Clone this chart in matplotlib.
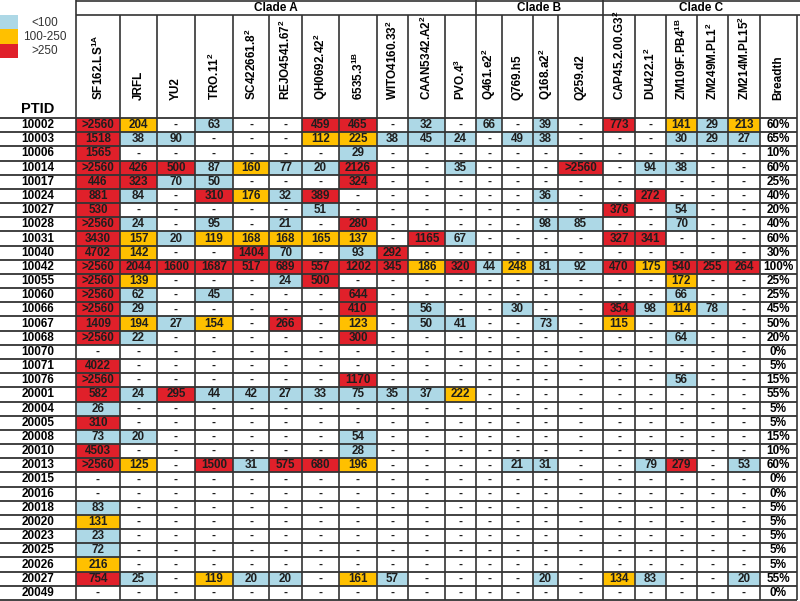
import numpy as np
import matplotlib
matplotlib.use("Agg")
import matplotlib.pyplot as plt
from matplotlib.colors import ListedColormap
from matplotlib.patches import Rectangle

plt.rcParams["font.family"] = ["Liberation Sans", "DejaVu Sans"]
plt.rcParams["mathtext.fontset"] = "custom"
plt.rcParams["mathtext.rm"] = "Liberation Sans"
plt.rcParams["mathtext.bf"] = "Liberation Sans:bold"

# --- data ---------------------------------------------------------------
viruses = [r"SF162.LS$^{\mathbf{1A}}$", "JRFL", "YU2", r"TRO.11$^{\mathbf{2}}$",
           r"SC422661.8$^{\mathbf{2}}$", r"REJO4541.67$^{\mathbf{2}}$",
           r"QH0692.42$^{\mathbf{2}}$", r"6535.3$^{\mathbf{1B}}$",
           r"WITO4160.33$^{\mathbf{2}}$", r"CAAN5342.A2$^{\mathbf{2}}$",
           r"PVO.4$^{\mathbf{3}}$", r"Q461.e2$^{\mathbf{2}}$", "Q769.h5",
           r"Q168.a2$^{\mathbf{2}}$", "Q259.d2", r"CAP45.2.00.G3$^{\mathbf{2}}$",
           r"DU422.1$^{\mathbf{2}}$", r"ZM109F.PB4$^{\mathbf{1B}}$",
           r"ZM249M.PL1$^{\mathbf{2}}$", r"ZM214M.PL15$^{\mathbf{2}}$"]
clades = ["Clade A", "Clade B", "Clade C"]
clade_sizes = [11, 4, 5]

ptids = ["10002", "10003", "10006", "10014", "10017", "10024", "10027", "10028",
         "10031", "10040", "10042", "10055", "10060", "10066", "10067", "10068",
         "10070", "10071", "10076", "20001", "20004", "20005", "20008", "20010",
         "20013", "20015", "20016", "20018", "20020", "20023", "20025", "20026",
         "20027", "20049"]

titers = [
    ">2560 204 - 63 - - 459 465 - 32 - 66 - 39 - 773 - 141 29 213",
    "1518 38 90 - - - 112 225 38 45 24 - 49 38 - - - 30 29 27",
    "1565 - - - - - - 29 - - - - - - - - - - - -",
    ">2560 426 500 87 160 77 20 2126 - - 35 - - - >2560 - 94 38 - -",
    "446 323 70 50 - - - 324 - - - - - - - - - - - -",
    "881 84 - 310 176 32 389 - - - - - - 36 - - 272 - - -",
    "530 - - - - - 51 - - - - - - - - 376 - 54 - -",
    ">2560 24 - 95 - 21 - 280 - - - - - 98 85 - - 70 - -",
    "3430 157 20 119 168 168 165 137 - 1165 67 - - - - 327 341 - - -",
    "4702 142 - - 1404 70 - 93 292 - - - - - - - - - - -",
    ">2560 2044 1600 1687 517 689 557 1202 345 186 320 44 248 81 92 470 175 540 255 264",
    ">2560 139 - - - 24 500 - - - - - - - - - - 172 - -",
    ">2560 62 - 45 - - - 644 - - - - - - - - - 66 - -",
    ">2560 29 - - - - - 410 - 56 - - 30 - - 354 98 114 78 -",
    "1409 194 27 154 - 266 - 123 - 50 41 - - 73 - 115 - - - -",
    ">2560 22 - - - - - 300 - - - - - - - - - 64 - -",
    "- - - - - - - - - - - - - - - - - - - -",
    "4022 - - - - - - - - - - - - - - - - - - -",
    ">2560 - - - - - - 1170 - - - - - - - - - 56 - -",
    "582 24 295 44 42 27 33 75 35 37 222 - - - - - - - - -",
    "26 - - - - - - - - - - - - - - - - - - -",
    "310 - - - - - - - - - - - - - - - - - - -",
    "73 20 - - - - - 54 - - - - - - - - - - - -",
    "4503 - - - - - - 28 - - - - - - - - - - - -",
    ">2560 125 - 1500 31 575 680 196 - - - - 21 31 - - 79 279 - 53",
    "- - - - - - - - - - - - - - - - - - - -",
    "- - - - - - - - - - - - - - - - - - - -",
    "83 - - - - - - - - - - - - - - - - - - -",
    "131 - - - - - - - - - - - - - - - - - - -",
    "23 - - - - - - - - - - - - - - - - - - -",
    "72 - - - - - - - - - - - - - - - - - - -",
    "216 - - - - - - - - - - - - - - - - - - -",
    "754 25 - 119 20 20 - 161 57 - - - - 20 - 134 83 - - 20",
    "- - - - - - - - - - - - - - - - - - - -",
]
breadth = ["60%", "65%", "10%", "60%", "25%", "40%", "20%", "40%", "60%", "30%",
           "100%", "25%", "25%", "45%", "50%", "20%", "0%", "5%", "15%", "55%",
           "5%", "5%", "15%", "10%", "60%", "0%", "0%", "5%", "5%", "5%", "5%",
           "5%", "55%", "0%"]

legend_labels = ["<100", "100-250", ">250"]
palette = ["white", "#ADD8E6", "#FFC000", "#E0202A"]

# --- layout (pixel units, figure is 800 x 601) ---------------------------
col_w = [76, 44, 37, 38, 38, 36, 33, 37, 38, 31, 37, 31, 26, 31, 25, 45,
         32, 31, 31, 31, 32, 37]
xe = np.concatenate([[0], np.cumsum(col_w)])
top, bottom = 118, 600
ye = np.linspace(top, bottom, len(ptids) + 1)
yc = (ye[:-1] + ye[1:]) / 2
xc = (xe[:-1] + xe[1:]) / 2
line_c = "#333333"


def level(s):
    if s == "-":
        return 0
    v = float(s.lstrip(">")) + (1 if s.startswith(">") else 0)
    return 1 if v < 100 else (2 if v <= 250 else 3)


cells = [r.split() for r in titers]
levels = np.array([[level(s) for s in r] for r in cells])

fig = plt.figure(figsize=(8, 6.01), dpi=100)
ax = fig.add_axes([0, 0, 1, 1])
ax.set_xlim(0, 800)
ax.set_ylim(601, 0)
ax.axis("off")

ax.pcolormesh(xe[1:len(viruses) + 2], ye, levels,
              cmap=ListedColormap(palette), vmin=-0.5, vmax=3.5)

# grid
ax.hlines(ye, 0, xe[-1], color=line_c, lw=1.3)
ax.hlines([1, 15], xe[1], 800, color=line_c, lw=1.2)
clade_edges = np.concatenate([[1], 1 + np.cumsum(clade_sizes)])
for i, x in enumerate(xe[1:]):
    y0 = 0 if (i + 1) in clade_edges[:-1] else 15
    ax.vlines(x, y0, bottom, color=line_c, lw=1.2)

# clade headers
for k, name in enumerate(clades):
    x0 = xe[clade_edges[k]]
    x1 = xe[clade_edges[k + 1]] if k < len(clades) - 1 else 800
    ax.text((x0 + x1) / 2, 8, name, ha="center", va="center",
            fontsize=8.5, fontweight="bold")

# column headers
for j, name in enumerate(viruses + ["Breadth"]):
    ax.text(xc[j + 1], 100, name, rotation=90, ha="center", va="bottom",
            fontsize=8.5, fontweight="bold")

ax.text(xc[0], 109, "PTID", ha="center", va="center",
        fontsize=10.5, fontweight="bold")

# body
for i, pid in enumerate(ptids):
    ax.text(xc[0], yc[i], pid, ha="center", va="center",
            fontsize=8.5, fontweight="bold")
    for j, s in enumerate(cells[i]):
        ax.text(xc[j + 1], yc[i], s, ha="center", va="center",
                fontsize=8.4, fontweight="bold", color="#1e1e1e")
    ax.text(xc[-1], yc[i], breadth[i], ha="center", va="center",
            fontsize=8.5, fontweight="bold")

# legend
for k, lab in enumerate(legend_labels):
    ax.add_patch(Rectangle((0, 15 + 14.3 * k), 18, 14.3,
                           facecolor=palette[k + 1], edgecolor="none"))
    ax.text(45, 22.5 + 14.3 * k, lab, ha="center", va="center",
            fontsize=8.5, color="#333333")

fig.savefig("out.png", dpi=100, facecolor="white")
